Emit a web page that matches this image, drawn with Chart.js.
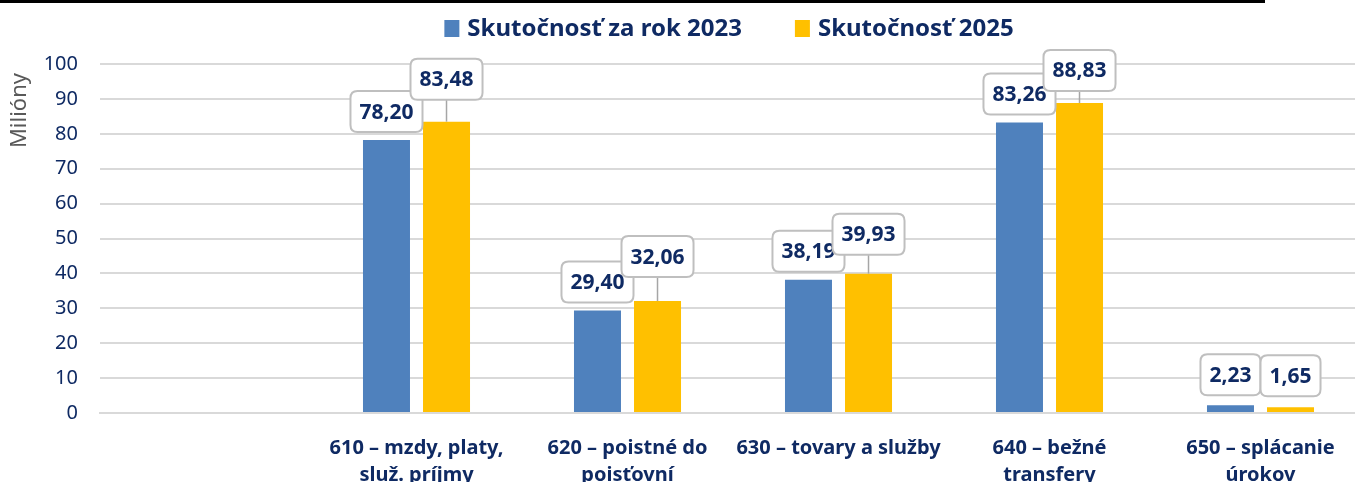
<!DOCTYPE html>
<html>
<head>
<meta charset="utf-8">
<script src="https://cdn.jsdelivr.net/npm/chart.js@4.4.1/dist/chart.umd.min.js"></script>
<style>
  html, body { margin: 0; padding: 0; background: #fff; overflow: hidden; }
  #wrap { position: relative; width: 1366px; height: 490px; }
  #topRule { position: absolute; left: 0; top: 0; width: 1265px; height: 3px; background: #000; }
</style>
</head>
<body>
<div id="wrap"><canvas id="chart"></canvas></div>
<div id="topRule"></div>
<script>
// údaje z grafu (prvá kategória je prázdna)
const categories = [
    '',
    ['610 – mzdy, platy,', 'služ. príjmy'],
    ['620 – poistné do', 'poisťovní'],
    '630 – tovary a služby',
    ['640 – bežné', 'transfery'],
    ['650 – splácanie', 'úrokov']
];
const seriesNames = ['Skutočnosť za rok 2023', 'Skutočnosť 2025'];
const actual2023 = [null, 78.20, 29.40, 38.19, 83.26, 2.23];
const actual2025 = [null, 83.48, 32.06, 39.93, 88.83, 1.65];
const yAxisTitle = 'Milióny';
const yMin = 0, yMax = 100, yStep = 10;

const NAVY = '#0f2a63';
const FONT = '"Noto Sans", "Open Sans", sans-serif';

function roundBox(ctx, x, y, w, h, r) {
    ctx.beginPath();
    ctx.moveTo(x + r, y);
    ctx.lineTo(x + w - r, y);
    ctx.quadraticCurveTo(x + w, y, x + w, y + r);
    ctx.lineTo(x + w, y + h - r);
    ctx.quadraticCurveTo(x + w, y + h, x + w - r, y + h);
    ctx.lineTo(x + r, y + h);
    ctx.quadraticCurveTo(x, y + h, x, y + h - r);
    ctx.lineTo(x, y + r);
    ctx.quadraticCurveTo(x, y, x + r, y);
    ctx.closePath();
}

// hodnoty v rámčekoch nad stĺpcami
const valueBoxes = {
    id: 'valueBoxes',
    afterDatasetsDraw(chart, args, opts) {
        const ctx = chart.ctx;
        ctx.save();
        ctx.font = 'bold 21px ' + FONT;
        ctx.textAlign = 'center';
        ctx.textBaseline = 'middle';
        chart.data.datasets.forEach((ds, di) => {
            const meta = chart.getDatasetMeta(di);
            ds.data.forEach((v, i) => {
                if (v === null) return;
                const bar = meta.data[i];
                const lift = opts.lift[di][i];
                const txt = v.toFixed(2).replace('.', ',');
                const w = ctx.measureText(txt).width + 18;
                const h = 41;
                const bottom = bar.y - lift;
                if (lift >= 12) {
                    ctx.beginPath();
                    ctx.moveTo(bar.x, bottom);
                    ctx.lineTo(bar.x, bar.y);
                    ctx.strokeStyle = '#a6a6a6';
                    ctx.lineWidth = 1.5;
                    ctx.stroke();
                }
                roundBox(ctx, bar.x - w / 2, bottom - h, w, h, 7);
                ctx.fillStyle = '#fff';
                ctx.fill();
                ctx.strokeStyle = '#bfbfbf';
                ctx.lineWidth = 2;
                ctx.stroke();
                ctx.fillStyle = NAVY;
                ctx.fillText(txt, bar.x, bottom - h / 2 + 1);
            });
        });
        ctx.restore();
    }
};

// legenda hore, centrovaná nad plochou grafu + názov osi Y
const topLegend = {
    id: 'topLegend',
    afterDraw(chart) {
        const ctx = chart.ctx;
        const area = chart.chartArea;
        ctx.save();
        ctx.font = 'bold 24px ' + FONT;
        ctx.textBaseline = 'middle';
        ctx.textAlign = 'left';
        const items = chart.data.datasets.map(ds => ({
            text: ds.label,
            color: ds.backgroundColor,
            w: 15 + 8 + ctx.measureText(ds.label).width
        }));
        const gap = 53;
        const total = items.reduce((s, it) => s + it.w, 0) + gap * (items.length - 1);
        let x = (area.left + area.right) / 2 - total / 2 - 4;
        const y = 28;
        items.forEach(it => {
            ctx.fillStyle = it.color;
            ctx.fillRect(x, y - 8, 15, 17);
            ctx.fillStyle = NAVY;
            ctx.fillText(it.text, x + 23, y + 1);
            x += it.w + gap;
        });

        ctx.translate(20, area.top + 9);
        ctx.rotate(-Math.PI / 2);
        ctx.font = '22px ' + FONT;
        ctx.fillStyle = '#595959';
        ctx.textAlign = 'right';
        ctx.fillText(yAxisTitle, 0, 0);
        ctx.restore();
    }
};

new Chart(document.getElementById('chart'), {
    type: 'bar',
    data: {
        labels: categories,
        datasets: [
            { label: seriesNames[0], data: actual2023, backgroundColor: '#4f81bd',
              barPercentage: 0.783, categoryPercentage: 0.569 },
            { label: seriesNames[1], data: actual2025, backgroundColor: '#ffc000',
              barPercentage: 0.783, categoryPercentage: 0.569 }
        ]
    },
    options: {
        responsive: true,
        maintainAspectRatio: false,
        animation: false,
        layout: { padding: { top: 64, left: 0, right: 0, bottom: 0 } },
        scales: {
            x: {
                grid: { display: false },
                border: { display: true, color: '#d9d9d9', width: 2 },
                ticks: {
                    color: NAVY,
                    font: { family: FONT, size: 20, weight: 'bold', lineHeight: 1.35 },
                    padding: 14,
                    maxRotation: 0,
                    autoSkip: false
                },
                afterFit(s) { s.height = 77; }
            },
            y: {
                min: yMin,
                max: yMax,
                grid: { color: '#d9d9d9', lineWidth: 2, drawTicks: false },
                border: { display: false },
                ticks: {
                    stepSize: yStep,
                    color: NAVY,
                    font: { family: FONT, size: 20 },
                    padding: 22
                },
                afterFit(s) { s.width = 100; }
            }
        },
        plugins: {
            legend: { display: false },
            tooltip: { enabled: false },
            valueBoxes: {
                lift: [
                    [8, 8, 8, 8, 8, 10],
                    [0, 22, 24, 19, 12, 11]
                ]
            }
        }
    },
    plugins: [valueBoxes, topLegend]
});
</script>
</body>
</html>
